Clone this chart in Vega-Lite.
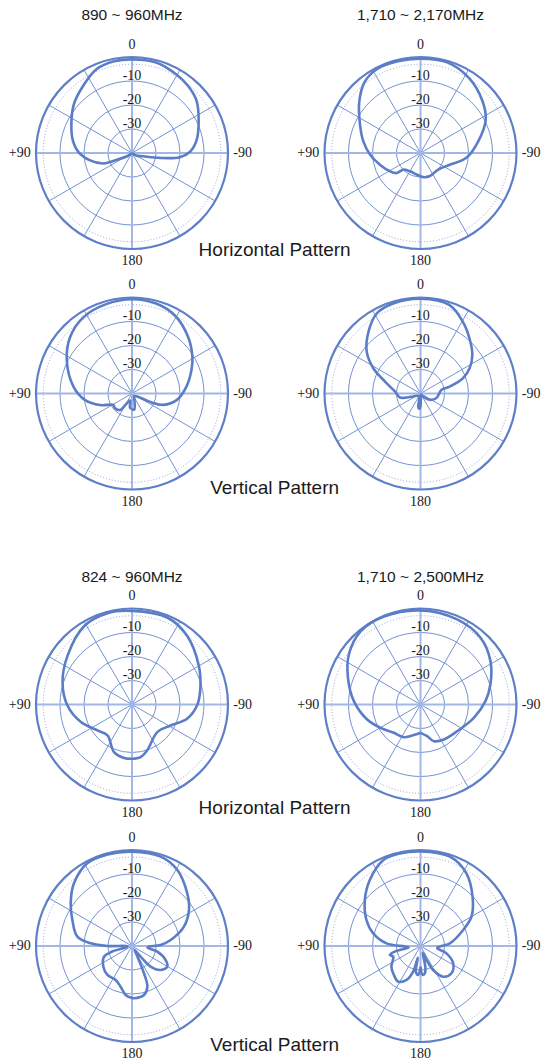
{
"$schema": "https://vega.github.io/schema/vega-lite/v6.json",
"background": "white",
"padding": {"left": 8, "top": 8, "right": 0, "bottom": 0},
"config": {"view": {"stroke": null}, "title": {"font": "Liberation Sans", "fontWeight": "normal", "color": "#1a1a1a"}},
"datasets": {
"rings": [{"level": -10}, {"level": -20}, {"level": -30}],
"dotted": [{"level": -3}],
"outer": [{"level": 0}],
"spokes": [{"angle": 30}, {"angle": 60}, {"angle": 120}, {"angle": 150}],
"axes": [{"angle": 0}, {"angle": 90}],
"dbl": [{"level": -10, "label": "-10"}, {"level": -20, "label": "-20"}, {"level": -30, "label": "-30"}],
"angl": [{"angle": 0, "label": "0"}, {"angle": 90, "label": "+90"}, {"angle": -90, "label": "-90"}, {"angle": 180, "label": "180"}],
"p1": [{"a":-180,"l":-40},{"a":-120,"l":-38},{"a":-106,"l":-35},{"a":-100,"l":-28.2},{"a":-95,"l":-20},{"a":-89,"l":-15.9},{"a":-79,"l":-12.6},{"a":-64,"l":-9.1},{"a":-51,"l":-5.4},{"a":-40,"l":-3.6},{"a":-30,"l":-2.5},{"a":-15,"l":-1},{"a":0,"l":-1},{"a":11,"l":-1.1},{"a":23,"l":-2.1},{"a":36,"l":-5.4},{"a":50,"l":-8.4},{"a":64,"l":-11.9},{"a":78,"l":-14.8},{"a":89,"l":-17.7},{"a":100,"l":-22.3},{"a":110,"l":-27.3},{"a":114,"l":-33},{"a":125,"l":-38},{"a":180,"l":-40}],
"p2": [{"a":-180,"l":-30.3},{"a":-172,"l":-29.8},{"a":-158,"l":-29.6},{"a":-133,"l":-29.9},{"a":-112,"l":-26.9},{"a":-96,"l":-20.8},{"a":-79,"l":-15.6},{"a":-63,"l":-9.5},{"a":-50,"l":-6.3},{"a":-33,"l":-2.8},{"a":-16,"l":-0.6},{"a":0,"l":-0.7},{"a":14,"l":-0.6},{"a":27,"l":-0.6},{"a":38,"l":-2.3},{"a":50,"l":-6.7},{"a":65,"l":-12.2},{"a":78.5,"l":-15.7},{"a":92,"l":-19},{"a":106,"l":-22.4},{"a":121,"l":-25.2},{"a":130,"l":-27},{"a":134,"l":-30},{"a":150,"l":-31.2},{"a":169.5,"l":-30.9},{"a":180,"l":-30.3}],
"p3": [{"a":-180,"l":-33.5},{"a":-172,"l":-33.2},{"a":-160,"l":-37},{"a":-140,"l":-38.5},{"a":-120,"l":-37.5},{"a":-115,"l":-32},{"a":-110,"l":-26.2},{"a":-98.5,"l":-21.2},{"a":-83,"l":-17.2},{"a":-68.6,"l":-13.4},{"a":-58.9,"l":-10.6},{"a":-44.8,"l":-6.8},{"a":-28.8,"l":-2.9},{"a":-15,"l":-1.2},{"a":0,"l":-0.7},{"a":15.7,"l":-1.2},{"a":32.4,"l":-2.3},{"a":47.6,"l":-5.1},{"a":63,"l":-9.5},{"a":83.5,"l":-15.5},{"a":98,"l":-20.3},{"a":110,"l":-25.9},{"a":122,"l":-30.9},{"a":131,"l":-30.6},{"a":144,"l":-31.5},{"a":152,"l":-35.3},{"a":165,"l":-37},{"a":172,"l":-34},{"a":180,"l":-33.5}],
"p4": [{"a":-180,"l":-34.2},{"a":-176,"l":-38},{"a":-165,"l":-39.5},{"a":-150,"l":-39},{"a":-138,"l":-38.3},{"a":-124,"l":-35.3},{"a":-106,"l":-33.1},{"a":-80,"l":-31.1},{"a":-76.6,"l":-27.5},{"a":-70.2,"l":-21.2},{"a":-62.8,"l":-17},{"a":-53.4,"l":-13.1},{"a":-41.7,"l":-9.3},{"a":-30.6,"l":-5.3},{"a":-18,"l":-1.2},{"a":0,"l":-0.5},{"a":16.5,"l":-0.8},{"a":28.7,"l":-2},{"a":40.2,"l":-6.4},{"a":52.1,"l":-11.6},{"a":61.8,"l":-17.7},{"a":71.4,"l":-24.4},{"a":85.5,"l":-29.3},{"a":101,"l":-31.3},{"a":106,"l":-34},{"a":112,"l":-36.7},{"a":130,"l":-38.5},{"a":165,"l":-38},{"a":170,"l":-34.5},{"a":175,"l":-33.6},{"a":180,"l":-34.2}],
"p5": [{"a":-180,"l":-17.4},{"a":-178,"l":-17.4},{"a":-170.7,"l":-17.8},{"a":-161.6,"l":-19.9},{"a":-137.5,"l":-24.4},{"a":-118.5,"l":-21.7},{"a":-104.5,"l":-16.3},{"a":-90.9,"l":-12.9},{"a":-77.1,"l":-10.8},{"a":-59.8,"l":-7.8},{"a":-38.7,"l":-3.3},{"a":-22,"l":-0.9},{"a":0,"l":-1},{"a":15,"l":-0.6},{"a":31.3,"l":-1.7},{"a":52.8,"l":-6.3},{"a":72.2,"l":-9.6},{"a":90.9,"l":-13.1},{"a":109,"l":-17.5},{"a":126.9,"l":-22},{"a":141.5,"l":-23.6},{"a":159.3,"l":-18.8},{"a":171.5,"l":-17.5},{"a":180,"l":-17.4}],
"p6": [{"a":-180,"l":-28.2},{"a":-168,"l":-26.5},{"a":-160,"l":-23.75},{"a":-146.3,"l":-22.5},{"a":-126,"l":-21.1},{"a":-104,"l":-17.1},{"a":-87,"l":-12.9},{"a":-74,"l":-9.7},{"a":-58.2,"l":-5.7},{"a":-42,"l":-2.6},{"a":-23.3,"l":-1.4},{"a":0,"l":-0.8},{"a":22.5,"l":-0.3},{"a":39.3,"l":-0.6},{"a":55.1,"l":-3.6},{"a":69.8,"l":-7.8},{"a":87.1,"l":-12.2},{"a":105.7,"l":-16.9},{"a":120.3,"l":-20.7},{"a":136.7,"l":-23.8},{"a":153,"l":-24.7},{"a":162.5,"l":-26.2},{"a":180,"l":-28.2}],
"p7": [{"a":-180,"l":-18.3},{"a":-177.8,"l":-18.2},{"a":-166.2,"l":-19},{"a":-159.3,"l":-21.9},{"a":-156.3,"l":-27.6},{"a":-152,"l":-36},{"a":-147,"l":-38},{"a":-141,"l":-34.3},{"a":-137.9,"l":-28.4},{"a":-129.9,"l":-24.4},{"a":-120.3,"l":-23},{"a":-112.6,"l":-24.8},{"a":-102.6,"l":-29.2},{"a":-96,"l":-33.5},{"a":-92,"l":-33},{"a":-88,"l":-28.1},{"a":-81.2,"l":-23.7},{"a":-69.6,"l":-16.9},{"a":-57.7,"l":-11.9},{"a":-46.4,"l":-8.2},{"a":-30.8,"l":-3.1},{"a":-17.8,"l":-0.9},{"a":0,"l":-0.7},{"a":14.9,"l":-0.5},{"a":28.4,"l":-0.8},{"a":42.8,"l":-4.4},{"a":55.2,"l":-8.9},{"a":66.5,"l":-12.9},{"a":80.3,"l":-16.9},{"a":86.3,"l":-22.8},{"a":90,"l":-29.7},{"a":93,"l":-38},{"a":100,"l":-38},{"a":106,"l":-31},{"a":111,"l":-27.5},{"a":125.8,"l":-25.3},{"a":139.6,"l":-24.2},{"a":154.3,"l":-24.3},{"a":164.4,"l":-22.4},{"a":172.6,"l":-19.4},{"a":180,"l":-18.3}],
"p8": [{"a":-180,"l":-31.4},{"a":-176,"l":-28},{"a":-171,"l":-28.5},{"a":-167,"l":-31},{"a":-162,"l":-37},{"a":-156.8,"l":-33.7},{"a":-152.2,"l":-28.7},{"a":-143.5,"l":-24.1},{"a":-131.4,"l":-22.8},{"a":-117.9,"l":-24.6},{"a":-105.8,"l":-28.75},{"a":-97,"l":-33},{"a":-90,"l":-31.25},{"a":-84.8,"l":-27.7},{"a":-69.4,"l":-21},{"a":-60.1,"l":-15.5},{"a":-46.5,"l":-10.1},{"a":-32.3,"l":-4.2},{"a":-18.2,"l":-0.8},{"a":0,"l":-0.6},{"a":12.5,"l":-0.5},{"a":23.5,"l":-1},{"a":37.5,"l":-5.3},{"a":50.4,"l":-9.9},{"a":64.3,"l":-15},{"a":75,"l":-19.6},{"a":85.5,"l":-25.8},{"a":92,"l":-33.5},{"a":97,"l":-35},{"a":102.4,"l":-29},{"a":106.4,"l":-26.7},{"a":111.3,"l":-27.8},{"a":125.5,"l":-25.1},{"a":137.4,"l":-23.6},{"a":148,"l":-22.5},{"a":157.6,"l":-24.7},{"a":164,"l":-28.9},{"a":167,"l":-35},{"a":170,"l":-29},{"a":175.4,"l":-27.9},{"a":180,"l":-31.4}]
},
"spacing": 60.5,
"vconcat": [
{"spacing": 8.5, "vconcat": [
{"bounds": "flush", "spacing": 88.5, "title": {"text": "Horizontal Pattern", "orient": "bottom", "anchor": "middle", "frame": "bounds", "fontSize": 19, "offset": -27.5}, "hconcat": [
{"width": 200, "height": 200, "title": {"text": "890 ~ 960MHz", "fontSize": 15.5, "offset": 13.8}, "layer": [
{"data": {"name": "rings"}, "mark": {"type": "arc", "filled": false, "stroke": "#7492d4", "strokeWidth": 1}, "encoding": {"radius": {"field": "level", "type": "quantitative", "scale": {"type": "linear", "domain": [-40, 0], "range": [0, 96], "zero": false}}, "radius2": {"datum": -40}}},
{"data": {"name": "dotted"}, "mark": {"type": "arc", "filled": false, "stroke": "#8aa4dc", "strokeWidth": 1, "strokeDash": [1, 2]}, "encoding": {"radius": {"field": "level", "type": "quantitative", "scale": {"type": "linear", "domain": [-40, 0], "range": [0, 96], "zero": false}}, "radius2": {"datum": -40}}},
{"data": {"name": "spokes"}, "transform": [{"calculate": "-40*sin(datum.angle*PI/180)", "as": "x"}, {"calculate": "40*cos(datum.angle*PI/180)", "as": "y"}, {"calculate": "-datum.x", "as": "x2"}, {"calculate": "-datum.y", "as": "y2"}], "mark": {"type": "rule", "color": "#7492d4", "strokeWidth": 1}, "encoding": {"x": {"field": "x", "type": "quantitative", "scale": {"domain": [-41.6667, 41.6667], "nice": false, "zero": false}, "axis": null}, "y": {"field": "y", "type": "quantitative", "scale": {"domain": [-41.6667, 41.6667], "nice": false, "zero": false}, "axis": null}, "x2": {"field": "x2"}, "y2": {"field": "y2"}}},
{"data": {"name": "axes"}, "transform": [{"calculate": "-40*sin(datum.angle*PI/180)", "as": "x"}, {"calculate": "40*cos(datum.angle*PI/180)", "as": "y"}, {"calculate": "-datum.x", "as": "x2"}, {"calculate": "-datum.y", "as": "y2"}], "mark": {"type": "rule", "color": "#a2b7e5", "strokeWidth": 2}, "encoding": {"x": {"field": "x", "type": "quantitative", "scale": {"domain": [-41.6667, 41.6667], "nice": false, "zero": false}, "axis": null}, "y": {"field": "y", "type": "quantitative", "scale": {"domain": [-41.6667, 41.6667], "nice": false, "zero": false}, "axis": null}, "x2": {"field": "x2"}, "y2": {"field": "y2"}}},
{"data": {"name": "outer"}, "mark": {"type": "arc", "filled": false, "stroke": "#5f80c8", "strokeWidth": 2.2}, "encoding": {"radius": {"field": "level", "type": "quantitative", "scale": {"type": "linear", "domain": [-40, 0], "range": [0, 96], "zero": false}}, "radius2": {"datum": -40}}},
{"data": {"name": "p1"}, "transform": [{"calculate": "max(0, datum.l + 40)", "as": "r"}, {"calculate": "-datum.r*sin(datum.a*PI/180)", "as": "x"}, {"calculate": "datum.r*cos(datum.a*PI/180)", "as": "y"}], "mark": {"type": "line", "color": "#5b7dc6", "strokeWidth": 2.6, "interpolate": "catmull-rom"}, "encoding": {"x": {"field": "x", "type": "quantitative", "scale": {"domain": [-41.6667, 41.6667], "nice": false, "zero": false}, "axis": null}, "y": {"field": "y", "type": "quantitative", "scale": {"domain": [-41.6667, 41.6667], "nice": false, "zero": false}, "axis": null}, "order": {"field": "a", "type": "quantitative"}}},
{"data": {"name": "dbl"}, "transform": [{"calculate": "datum.level + 40", "as": "y"}], "mark": {"type": "text", "font": "Liberation Serif", "fontSize": 14, "color": "#1a1a1a", "baseline": "alphabetic", "dy": -1.5}, "encoding": {"x": {"datum": 0, "type": "quantitative", "scale": {"domain": [-41.6667, 41.6667], "nice": false, "zero": false}, "axis": null}, "y": {"field": "y", "type": "quantitative", "scale": {"domain": [-41.6667, 41.6667], "nice": false, "zero": false}, "axis": null}, "text": {"field": "label"}}},
{"data": {"name": "angl"}, "transform": [{"calculate": "-42.2*sin(datum.angle*PI/180)", "as": "x"}, {"calculate": "42.2*cos(datum.angle*PI/180)", "as": "y"}], "mark": {"type": "text", "font": "Liberation Serif", "fontSize": 14, "color": "#1a1a1a", "align": {"expr": "datum.angle == 90 ? 'right' : datum.angle == -90 ? 'left' : 'center'"}, "baseline": {"expr": "datum.angle == 0 ? 'bottom' : datum.angle == 180 ? 'top' : 'middle'"}}, "encoding": {"x": {"field": "x", "type": "quantitative", "scale": {"domain": [-41.6667, 41.6667], "nice": false, "zero": false}, "axis": null}, "y": {"field": "y", "type": "quantitative", "scale": {"domain": [-41.6667, 41.6667], "nice": false, "zero": false}, "axis": null}, "text": {"field": "label"}}}
]},
{"width": 200, "height": 200, "title": {"text": "1,710 ~ 2,170MHz", "fontSize": 15.5, "offset": 13.8}, "layer": [
{"data": {"name": "rings"}, "mark": {"type": "arc", "filled": false, "stroke": "#7492d4", "strokeWidth": 1}, "encoding": {"radius": {"field": "level", "type": "quantitative", "scale": {"type": "linear", "domain": [-40, 0], "range": [0, 96], "zero": false}}, "radius2": {"datum": -40}}},
{"data": {"name": "dotted"}, "mark": {"type": "arc", "filled": false, "stroke": "#8aa4dc", "strokeWidth": 1, "strokeDash": [1, 2]}, "encoding": {"radius": {"field": "level", "type": "quantitative", "scale": {"type": "linear", "domain": [-40, 0], "range": [0, 96], "zero": false}}, "radius2": {"datum": -40}}},
{"data": {"name": "spokes"}, "transform": [{"calculate": "-40*sin(datum.angle*PI/180)", "as": "x"}, {"calculate": "40*cos(datum.angle*PI/180)", "as": "y"}, {"calculate": "-datum.x", "as": "x2"}, {"calculate": "-datum.y", "as": "y2"}], "mark": {"type": "rule", "color": "#7492d4", "strokeWidth": 1}, "encoding": {"x": {"field": "x", "type": "quantitative", "scale": {"domain": [-41.6667, 41.6667], "nice": false, "zero": false}, "axis": null}, "y": {"field": "y", "type": "quantitative", "scale": {"domain": [-41.6667, 41.6667], "nice": false, "zero": false}, "axis": null}, "x2": {"field": "x2"}, "y2": {"field": "y2"}}},
{"data": {"name": "axes"}, "transform": [{"calculate": "-40*sin(datum.angle*PI/180)", "as": "x"}, {"calculate": "40*cos(datum.angle*PI/180)", "as": "y"}, {"calculate": "-datum.x", "as": "x2"}, {"calculate": "-datum.y", "as": "y2"}], "mark": {"type": "rule", "color": "#a2b7e5", "strokeWidth": 2}, "encoding": {"x": {"field": "x", "type": "quantitative", "scale": {"domain": [-41.6667, 41.6667], "nice": false, "zero": false}, "axis": null}, "y": {"field": "y", "type": "quantitative", "scale": {"domain": [-41.6667, 41.6667], "nice": false, "zero": false}, "axis": null}, "x2": {"field": "x2"}, "y2": {"field": "y2"}}},
{"data": {"name": "outer"}, "mark": {"type": "arc", "filled": false, "stroke": "#5f80c8", "strokeWidth": 2.2}, "encoding": {"radius": {"field": "level", "type": "quantitative", "scale": {"type": "linear", "domain": [-40, 0], "range": [0, 96], "zero": false}}, "radius2": {"datum": -40}}},
{"data": {"name": "p2"}, "transform": [{"calculate": "max(0, datum.l + 40)", "as": "r"}, {"calculate": "-datum.r*sin(datum.a*PI/180)", "as": "x"}, {"calculate": "datum.r*cos(datum.a*PI/180)", "as": "y"}], "mark": {"type": "line", "color": "#5b7dc6", "strokeWidth": 2.6, "interpolate": "catmull-rom"}, "encoding": {"x": {"field": "x", "type": "quantitative", "scale": {"domain": [-41.6667, 41.6667], "nice": false, "zero": false}, "axis": null}, "y": {"field": "y", "type": "quantitative", "scale": {"domain": [-41.6667, 41.6667], "nice": false, "zero": false}, "axis": null}, "order": {"field": "a", "type": "quantitative"}}},
{"data": {"name": "dbl"}, "transform": [{"calculate": "datum.level + 40", "as": "y"}], "mark": {"type": "text", "font": "Liberation Serif", "fontSize": 14, "color": "#1a1a1a", "baseline": "alphabetic", "dy": -1.5}, "encoding": {"x": {"datum": 0, "type": "quantitative", "scale": {"domain": [-41.6667, 41.6667], "nice": false, "zero": false}, "axis": null}, "y": {"field": "y", "type": "quantitative", "scale": {"domain": [-41.6667, 41.6667], "nice": false, "zero": false}, "axis": null}, "text": {"field": "label"}}},
{"data": {"name": "angl"}, "transform": [{"calculate": "-42.2*sin(datum.angle*PI/180)", "as": "x"}, {"calculate": "42.2*cos(datum.angle*PI/180)", "as": "y"}], "mark": {"type": "text", "font": "Liberation Serif", "fontSize": 14, "color": "#1a1a1a", "align": {"expr": "datum.angle == 90 ? 'right' : datum.angle == -90 ? 'left' : 'center'"}, "baseline": {"expr": "datum.angle == 0 ? 'bottom' : datum.angle == 180 ? 'top' : 'middle'"}}, "encoding": {"x": {"field": "x", "type": "quantitative", "scale": {"domain": [-41.6667, 41.6667], "nice": false, "zero": false}, "axis": null}, "y": {"field": "y", "type": "quantitative", "scale": {"domain": [-41.6667, 41.6667], "nice": false, "zero": false}, "axis": null}, "text": {"field": "label"}}}
]}
]},
{"bounds": "flush", "spacing": 88.5, "title": {"text": "Vertical Pattern", "orient": "bottom", "anchor": "middle", "frame": "bounds", "fontSize": 19, "offset": -29.5}, "hconcat": [
{"width": 200, "height": 200, "layer": [
{"data": {"name": "rings"}, "mark": {"type": "arc", "filled": false, "stroke": "#7492d4", "strokeWidth": 1}, "encoding": {"radius": {"field": "level", "type": "quantitative", "scale": {"type": "linear", "domain": [-40, 0], "range": [0, 96], "zero": false}}, "radius2": {"datum": -40}}},
{"data": {"name": "dotted"}, "mark": {"type": "arc", "filled": false, "stroke": "#8aa4dc", "strokeWidth": 1, "strokeDash": [1, 2]}, "encoding": {"radius": {"field": "level", "type": "quantitative", "scale": {"type": "linear", "domain": [-40, 0], "range": [0, 96], "zero": false}}, "radius2": {"datum": -40}}},
{"data": {"name": "spokes"}, "transform": [{"calculate": "-40*sin(datum.angle*PI/180)", "as": "x"}, {"calculate": "40*cos(datum.angle*PI/180)", "as": "y"}, {"calculate": "-datum.x", "as": "x2"}, {"calculate": "-datum.y", "as": "y2"}], "mark": {"type": "rule", "color": "#7492d4", "strokeWidth": 1}, "encoding": {"x": {"field": "x", "type": "quantitative", "scale": {"domain": [-41.6667, 41.6667], "nice": false, "zero": false}, "axis": null}, "y": {"field": "y", "type": "quantitative", "scale": {"domain": [-41.6667, 41.6667], "nice": false, "zero": false}, "axis": null}, "x2": {"field": "x2"}, "y2": {"field": "y2"}}},
{"data": {"name": "axes"}, "transform": [{"calculate": "-40*sin(datum.angle*PI/180)", "as": "x"}, {"calculate": "40*cos(datum.angle*PI/180)", "as": "y"}, {"calculate": "-datum.x", "as": "x2"}, {"calculate": "-datum.y", "as": "y2"}], "mark": {"type": "rule", "color": "#a2b7e5", "strokeWidth": 2}, "encoding": {"x": {"field": "x", "type": "quantitative", "scale": {"domain": [-41.6667, 41.6667], "nice": false, "zero": false}, "axis": null}, "y": {"field": "y", "type": "quantitative", "scale": {"domain": [-41.6667, 41.6667], "nice": false, "zero": false}, "axis": null}, "x2": {"field": "x2"}, "y2": {"field": "y2"}}},
{"data": {"name": "outer"}, "mark": {"type": "arc", "filled": false, "stroke": "#5f80c8", "strokeWidth": 2.2}, "encoding": {"radius": {"field": "level", "type": "quantitative", "scale": {"type": "linear", "domain": [-40, 0], "range": [0, 96], "zero": false}}, "radius2": {"datum": -40}}},
{"data": {"name": "p3"}, "transform": [{"calculate": "max(0, datum.l + 40)", "as": "r"}, {"calculate": "-datum.r*sin(datum.a*PI/180)", "as": "x"}, {"calculate": "datum.r*cos(datum.a*PI/180)", "as": "y"}], "mark": {"type": "line", "color": "#5b7dc6", "strokeWidth": 2.6, "interpolate": "catmull-rom"}, "encoding": {"x": {"field": "x", "type": "quantitative", "scale": {"domain": [-41.6667, 41.6667], "nice": false, "zero": false}, "axis": null}, "y": {"field": "y", "type": "quantitative", "scale": {"domain": [-41.6667, 41.6667], "nice": false, "zero": false}, "axis": null}, "order": {"field": "a", "type": "quantitative"}}},
{"data": {"name": "dbl"}, "transform": [{"calculate": "datum.level + 40", "as": "y"}], "mark": {"type": "text", "font": "Liberation Serif", "fontSize": 14, "color": "#1a1a1a", "baseline": "alphabetic", "dy": -1.5}, "encoding": {"x": {"datum": 0, "type": "quantitative", "scale": {"domain": [-41.6667, 41.6667], "nice": false, "zero": false}, "axis": null}, "y": {"field": "y", "type": "quantitative", "scale": {"domain": [-41.6667, 41.6667], "nice": false, "zero": false}, "axis": null}, "text": {"field": "label"}}},
{"data": {"name": "angl"}, "transform": [{"calculate": "-42.2*sin(datum.angle*PI/180)", "as": "x"}, {"calculate": "42.2*cos(datum.angle*PI/180)", "as": "y"}], "mark": {"type": "text", "font": "Liberation Serif", "fontSize": 14, "color": "#1a1a1a", "align": {"expr": "datum.angle == 90 ? 'right' : datum.angle == -90 ? 'left' : 'center'"}, "baseline": {"expr": "datum.angle == 0 ? 'bottom' : datum.angle == 180 ? 'top' : 'middle'"}}, "encoding": {"x": {"field": "x", "type": "quantitative", "scale": {"domain": [-41.6667, 41.6667], "nice": false, "zero": false}, "axis": null}, "y": {"field": "y", "type": "quantitative", "scale": {"domain": [-41.6667, 41.6667], "nice": false, "zero": false}, "axis": null}, "text": {"field": "label"}}}
]},
{"width": 200, "height": 200, "layer": [
{"data": {"name": "rings"}, "mark": {"type": "arc", "filled": false, "stroke": "#7492d4", "strokeWidth": 1}, "encoding": {"radius": {"field": "level", "type": "quantitative", "scale": {"type": "linear", "domain": [-40, 0], "range": [0, 96], "zero": false}}, "radius2": {"datum": -40}}},
{"data": {"name": "dotted"}, "mark": {"type": "arc", "filled": false, "stroke": "#8aa4dc", "strokeWidth": 1, "strokeDash": [1, 2]}, "encoding": {"radius": {"field": "level", "type": "quantitative", "scale": {"type": "linear", "domain": [-40, 0], "range": [0, 96], "zero": false}}, "radius2": {"datum": -40}}},
{"data": {"name": "spokes"}, "transform": [{"calculate": "-40*sin(datum.angle*PI/180)", "as": "x"}, {"calculate": "40*cos(datum.angle*PI/180)", "as": "y"}, {"calculate": "-datum.x", "as": "x2"}, {"calculate": "-datum.y", "as": "y2"}], "mark": {"type": "rule", "color": "#7492d4", "strokeWidth": 1}, "encoding": {"x": {"field": "x", "type": "quantitative", "scale": {"domain": [-41.6667, 41.6667], "nice": false, "zero": false}, "axis": null}, "y": {"field": "y", "type": "quantitative", "scale": {"domain": [-41.6667, 41.6667], "nice": false, "zero": false}, "axis": null}, "x2": {"field": "x2"}, "y2": {"field": "y2"}}},
{"data": {"name": "axes"}, "transform": [{"calculate": "-40*sin(datum.angle*PI/180)", "as": "x"}, {"calculate": "40*cos(datum.angle*PI/180)", "as": "y"}, {"calculate": "-datum.x", "as": "x2"}, {"calculate": "-datum.y", "as": "y2"}], "mark": {"type": "rule", "color": "#a2b7e5", "strokeWidth": 2}, "encoding": {"x": {"field": "x", "type": "quantitative", "scale": {"domain": [-41.6667, 41.6667], "nice": false, "zero": false}, "axis": null}, "y": {"field": "y", "type": "quantitative", "scale": {"domain": [-41.6667, 41.6667], "nice": false, "zero": false}, "axis": null}, "x2": {"field": "x2"}, "y2": {"field": "y2"}}},
{"data": {"name": "outer"}, "mark": {"type": "arc", "filled": false, "stroke": "#5f80c8", "strokeWidth": 2.2}, "encoding": {"radius": {"field": "level", "type": "quantitative", "scale": {"type": "linear", "domain": [-40, 0], "range": [0, 96], "zero": false}}, "radius2": {"datum": -40}}},
{"data": {"name": "p4"}, "transform": [{"calculate": "max(0, datum.l + 40)", "as": "r"}, {"calculate": "-datum.r*sin(datum.a*PI/180)", "as": "x"}, {"calculate": "datum.r*cos(datum.a*PI/180)", "as": "y"}], "mark": {"type": "line", "color": "#5b7dc6", "strokeWidth": 2.6, "interpolate": "catmull-rom"}, "encoding": {"x": {"field": "x", "type": "quantitative", "scale": {"domain": [-41.6667, 41.6667], "nice": false, "zero": false}, "axis": null}, "y": {"field": "y", "type": "quantitative", "scale": {"domain": [-41.6667, 41.6667], "nice": false, "zero": false}, "axis": null}, "order": {"field": "a", "type": "quantitative"}}},
{"data": {"name": "dbl"}, "transform": [{"calculate": "datum.level + 40", "as": "y"}], "mark": {"type": "text", "font": "Liberation Serif", "fontSize": 14, "color": "#1a1a1a", "baseline": "alphabetic", "dy": -1.5}, "encoding": {"x": {"datum": 0, "type": "quantitative", "scale": {"domain": [-41.6667, 41.6667], "nice": false, "zero": false}, "axis": null}, "y": {"field": "y", "type": "quantitative", "scale": {"domain": [-41.6667, 41.6667], "nice": false, "zero": false}, "axis": null}, "text": {"field": "label"}}},
{"data": {"name": "angl"}, "transform": [{"calculate": "-42.2*sin(datum.angle*PI/180)", "as": "x"}, {"calculate": "42.2*cos(datum.angle*PI/180)", "as": "y"}], "mark": {"type": "text", "font": "Liberation Serif", "fontSize": 14, "color": "#1a1a1a", "align": {"expr": "datum.angle == 90 ? 'right' : datum.angle == -90 ? 'left' : 'center'"}, "baseline": {"expr": "datum.angle == 0 ? 'bottom' : datum.angle == 180 ? 'top' : 'middle'"}}, "encoding": {"x": {"field": "x", "type": "quantitative", "scale": {"domain": [-41.6667, 41.6667], "nice": false, "zero": false}, "axis": null}, "y": {"field": "y", "type": "quantitative", "scale": {"domain": [-41.6667, 41.6667], "nice": false, "zero": false}, "axis": null}, "text": {"field": "label"}}}
]}
]}
]},
{"spacing": 9.5, "vconcat": [
{"bounds": "flush", "spacing": 88.5, "title": {"text": "Horizontal Pattern", "orient": "bottom", "anchor": "middle", "frame": "bounds", "fontSize": 19, "offset": -21}, "hconcat": [
{"width": 200, "height": 200, "title": {"text": "824 ~ 960MHz", "fontSize": 15.5, "offset": 3.8}, "layer": [
{"data": {"name": "rings"}, "mark": {"type": "arc", "filled": false, "stroke": "#7492d4", "strokeWidth": 1}, "encoding": {"radius": {"field": "level", "type": "quantitative", "scale": {"type": "linear", "domain": [-40, 0], "range": [0, 96], "zero": false}}, "radius2": {"datum": -40}}},
{"data": {"name": "dotted"}, "mark": {"type": "arc", "filled": false, "stroke": "#8aa4dc", "strokeWidth": 1, "strokeDash": [1, 2]}, "encoding": {"radius": {"field": "level", "type": "quantitative", "scale": {"type": "linear", "domain": [-40, 0], "range": [0, 96], "zero": false}}, "radius2": {"datum": -40}}},
{"data": {"name": "spokes"}, "transform": [{"calculate": "-40*sin(datum.angle*PI/180)", "as": "x"}, {"calculate": "40*cos(datum.angle*PI/180)", "as": "y"}, {"calculate": "-datum.x", "as": "x2"}, {"calculate": "-datum.y", "as": "y2"}], "mark": {"type": "rule", "color": "#7492d4", "strokeWidth": 1}, "encoding": {"x": {"field": "x", "type": "quantitative", "scale": {"domain": [-41.6667, 41.6667], "nice": false, "zero": false}, "axis": null}, "y": {"field": "y", "type": "quantitative", "scale": {"domain": [-41.6667, 41.6667], "nice": false, "zero": false}, "axis": null}, "x2": {"field": "x2"}, "y2": {"field": "y2"}}},
{"data": {"name": "axes"}, "transform": [{"calculate": "-40*sin(datum.angle*PI/180)", "as": "x"}, {"calculate": "40*cos(datum.angle*PI/180)", "as": "y"}, {"calculate": "-datum.x", "as": "x2"}, {"calculate": "-datum.y", "as": "y2"}], "mark": {"type": "rule", "color": "#a2b7e5", "strokeWidth": 2}, "encoding": {"x": {"field": "x", "type": "quantitative", "scale": {"domain": [-41.6667, 41.6667], "nice": false, "zero": false}, "axis": null}, "y": {"field": "y", "type": "quantitative", "scale": {"domain": [-41.6667, 41.6667], "nice": false, "zero": false}, "axis": null}, "x2": {"field": "x2"}, "y2": {"field": "y2"}}},
{"data": {"name": "outer"}, "mark": {"type": "arc", "filled": false, "stroke": "#5f80c8", "strokeWidth": 2.2}, "encoding": {"radius": {"field": "level", "type": "quantitative", "scale": {"type": "linear", "domain": [-40, 0], "range": [0, 96], "zero": false}}, "radius2": {"datum": -40}}},
{"data": {"name": "p5"}, "transform": [{"calculate": "max(0, datum.l + 40)", "as": "r"}, {"calculate": "-datum.r*sin(datum.a*PI/180)", "as": "x"}, {"calculate": "datum.r*cos(datum.a*PI/180)", "as": "y"}], "mark": {"type": "line", "color": "#5b7dc6", "strokeWidth": 2.6, "interpolate": "catmull-rom"}, "encoding": {"x": {"field": "x", "type": "quantitative", "scale": {"domain": [-41.6667, 41.6667], "nice": false, "zero": false}, "axis": null}, "y": {"field": "y", "type": "quantitative", "scale": {"domain": [-41.6667, 41.6667], "nice": false, "zero": false}, "axis": null}, "order": {"field": "a", "type": "quantitative"}}},
{"data": {"name": "dbl"}, "transform": [{"calculate": "datum.level + 40", "as": "y"}], "mark": {"type": "text", "font": "Liberation Serif", "fontSize": 14, "color": "#1a1a1a", "baseline": "alphabetic", "dy": -1.5}, "encoding": {"x": {"datum": 0, "type": "quantitative", "scale": {"domain": [-41.6667, 41.6667], "nice": false, "zero": false}, "axis": null}, "y": {"field": "y", "type": "quantitative", "scale": {"domain": [-41.6667, 41.6667], "nice": false, "zero": false}, "axis": null}, "text": {"field": "label"}}},
{"data": {"name": "angl"}, "transform": [{"calculate": "-42.2*sin(datum.angle*PI/180)", "as": "x"}, {"calculate": "42.2*cos(datum.angle*PI/180)", "as": "y"}], "mark": {"type": "text", "font": "Liberation Serif", "fontSize": 14, "color": "#1a1a1a", "align": {"expr": "datum.angle == 90 ? 'right' : datum.angle == -90 ? 'left' : 'center'"}, "baseline": {"expr": "datum.angle == 0 ? 'bottom' : datum.angle == 180 ? 'top' : 'middle'"}}, "encoding": {"x": {"field": "x", "type": "quantitative", "scale": {"domain": [-41.6667, 41.6667], "nice": false, "zero": false}, "axis": null}, "y": {"field": "y", "type": "quantitative", "scale": {"domain": [-41.6667, 41.6667], "nice": false, "zero": false}, "axis": null}, "text": {"field": "label"}}}
]},
{"width": 200, "height": 200, "title": {"text": "1,710 ~ 2,500MHz", "fontSize": 15.5, "offset": 3.8}, "layer": [
{"data": {"name": "rings"}, "mark": {"type": "arc", "filled": false, "stroke": "#7492d4", "strokeWidth": 1}, "encoding": {"radius": {"field": "level", "type": "quantitative", "scale": {"type": "linear", "domain": [-40, 0], "range": [0, 96], "zero": false}}, "radius2": {"datum": -40}}},
{"data": {"name": "dotted"}, "mark": {"type": "arc", "filled": false, "stroke": "#8aa4dc", "strokeWidth": 1, "strokeDash": [1, 2]}, "encoding": {"radius": {"field": "level", "type": "quantitative", "scale": {"type": "linear", "domain": [-40, 0], "range": [0, 96], "zero": false}}, "radius2": {"datum": -40}}},
{"data": {"name": "spokes"}, "transform": [{"calculate": "-40*sin(datum.angle*PI/180)", "as": "x"}, {"calculate": "40*cos(datum.angle*PI/180)", "as": "y"}, {"calculate": "-datum.x", "as": "x2"}, {"calculate": "-datum.y", "as": "y2"}], "mark": {"type": "rule", "color": "#7492d4", "strokeWidth": 1}, "encoding": {"x": {"field": "x", "type": "quantitative", "scale": {"domain": [-41.6667, 41.6667], "nice": false, "zero": false}, "axis": null}, "y": {"field": "y", "type": "quantitative", "scale": {"domain": [-41.6667, 41.6667], "nice": false, "zero": false}, "axis": null}, "x2": {"field": "x2"}, "y2": {"field": "y2"}}},
{"data": {"name": "axes"}, "transform": [{"calculate": "-40*sin(datum.angle*PI/180)", "as": "x"}, {"calculate": "40*cos(datum.angle*PI/180)", "as": "y"}, {"calculate": "-datum.x", "as": "x2"}, {"calculate": "-datum.y", "as": "y2"}], "mark": {"type": "rule", "color": "#a2b7e5", "strokeWidth": 2}, "encoding": {"x": {"field": "x", "type": "quantitative", "scale": {"domain": [-41.6667, 41.6667], "nice": false, "zero": false}, "axis": null}, "y": {"field": "y", "type": "quantitative", "scale": {"domain": [-41.6667, 41.6667], "nice": false, "zero": false}, "axis": null}, "x2": {"field": "x2"}, "y2": {"field": "y2"}}},
{"data": {"name": "outer"}, "mark": {"type": "arc", "filled": false, "stroke": "#5f80c8", "strokeWidth": 2.2}, "encoding": {"radius": {"field": "level", "type": "quantitative", "scale": {"type": "linear", "domain": [-40, 0], "range": [0, 96], "zero": false}}, "radius2": {"datum": -40}}},
{"data": {"name": "p6"}, "transform": [{"calculate": "max(0, datum.l + 40)", "as": "r"}, {"calculate": "-datum.r*sin(datum.a*PI/180)", "as": "x"}, {"calculate": "datum.r*cos(datum.a*PI/180)", "as": "y"}], "mark": {"type": "line", "color": "#5b7dc6", "strokeWidth": 2.6, "interpolate": "catmull-rom"}, "encoding": {"x": {"field": "x", "type": "quantitative", "scale": {"domain": [-41.6667, 41.6667], "nice": false, "zero": false}, "axis": null}, "y": {"field": "y", "type": "quantitative", "scale": {"domain": [-41.6667, 41.6667], "nice": false, "zero": false}, "axis": null}, "order": {"field": "a", "type": "quantitative"}}},
{"data": {"name": "dbl"}, "transform": [{"calculate": "datum.level + 40", "as": "y"}], "mark": {"type": "text", "font": "Liberation Serif", "fontSize": 14, "color": "#1a1a1a", "baseline": "alphabetic", "dy": -1.5}, "encoding": {"x": {"datum": 0, "type": "quantitative", "scale": {"domain": [-41.6667, 41.6667], "nice": false, "zero": false}, "axis": null}, "y": {"field": "y", "type": "quantitative", "scale": {"domain": [-41.6667, 41.6667], "nice": false, "zero": false}, "axis": null}, "text": {"field": "label"}}},
{"data": {"name": "angl"}, "transform": [{"calculate": "-42.2*sin(datum.angle*PI/180)", "as": "x"}, {"calculate": "42.2*cos(datum.angle*PI/180)", "as": "y"}], "mark": {"type": "text", "font": "Liberation Serif", "fontSize": 14, "color": "#1a1a1a", "align": {"expr": "datum.angle == 90 ? 'right' : datum.angle == -90 ? 'left' : 'center'"}, "baseline": {"expr": "datum.angle == 0 ? 'bottom' : datum.angle == 180 ? 'top' : 'middle'"}}, "encoding": {"x": {"field": "x", "type": "quantitative", "scale": {"domain": [-41.6667, 41.6667], "nice": false, "zero": false}, "axis": null}, "y": {"field": "y", "type": "quantitative", "scale": {"domain": [-41.6667, 41.6667], "nice": false, "zero": false}, "axis": null}, "text": {"field": "label"}}}
]}
]},
{"bounds": "flush", "spacing": 88.5, "title": {"text": "Vertical Pattern", "orient": "bottom", "anchor": "middle", "frame": "bounds", "fontSize": 19, "offset": -25}, "hconcat": [
{"width": 200, "height": 200, "layer": [
{"data": {"name": "rings"}, "mark": {"type": "arc", "filled": false, "stroke": "#7492d4", "strokeWidth": 1}, "encoding": {"radius": {"field": "level", "type": "quantitative", "scale": {"type": "linear", "domain": [-40, 0], "range": [0, 96], "zero": false}}, "radius2": {"datum": -40}}},
{"data": {"name": "dotted"}, "mark": {"type": "arc", "filled": false, "stroke": "#8aa4dc", "strokeWidth": 1, "strokeDash": [1, 2]}, "encoding": {"radius": {"field": "level", "type": "quantitative", "scale": {"type": "linear", "domain": [-40, 0], "range": [0, 96], "zero": false}}, "radius2": {"datum": -40}}},
{"data": {"name": "spokes"}, "transform": [{"calculate": "-40*sin(datum.angle*PI/180)", "as": "x"}, {"calculate": "40*cos(datum.angle*PI/180)", "as": "y"}, {"calculate": "-datum.x", "as": "x2"}, {"calculate": "-datum.y", "as": "y2"}], "mark": {"type": "rule", "color": "#7492d4", "strokeWidth": 1}, "encoding": {"x": {"field": "x", "type": "quantitative", "scale": {"domain": [-41.6667, 41.6667], "nice": false, "zero": false}, "axis": null}, "y": {"field": "y", "type": "quantitative", "scale": {"domain": [-41.6667, 41.6667], "nice": false, "zero": false}, "axis": null}, "x2": {"field": "x2"}, "y2": {"field": "y2"}}},
{"data": {"name": "axes"}, "transform": [{"calculate": "-40*sin(datum.angle*PI/180)", "as": "x"}, {"calculate": "40*cos(datum.angle*PI/180)", "as": "y"}, {"calculate": "-datum.x", "as": "x2"}, {"calculate": "-datum.y", "as": "y2"}], "mark": {"type": "rule", "color": "#a2b7e5", "strokeWidth": 2}, "encoding": {"x": {"field": "x", "type": "quantitative", "scale": {"domain": [-41.6667, 41.6667], "nice": false, "zero": false}, "axis": null}, "y": {"field": "y", "type": "quantitative", "scale": {"domain": [-41.6667, 41.6667], "nice": false, "zero": false}, "axis": null}, "x2": {"field": "x2"}, "y2": {"field": "y2"}}},
{"data": {"name": "outer"}, "mark": {"type": "arc", "filled": false, "stroke": "#5f80c8", "strokeWidth": 2.2}, "encoding": {"radius": {"field": "level", "type": "quantitative", "scale": {"type": "linear", "domain": [-40, 0], "range": [0, 96], "zero": false}}, "radius2": {"datum": -40}}},
{"data": {"name": "p7"}, "transform": [{"calculate": "max(0, datum.l + 40)", "as": "r"}, {"calculate": "-datum.r*sin(datum.a*PI/180)", "as": "x"}, {"calculate": "datum.r*cos(datum.a*PI/180)", "as": "y"}], "mark": {"type": "line", "color": "#5b7dc6", "strokeWidth": 2.6, "interpolate": "catmull-rom"}, "encoding": {"x": {"field": "x", "type": "quantitative", "scale": {"domain": [-41.6667, 41.6667], "nice": false, "zero": false}, "axis": null}, "y": {"field": "y", "type": "quantitative", "scale": {"domain": [-41.6667, 41.6667], "nice": false, "zero": false}, "axis": null}, "order": {"field": "a", "type": "quantitative"}}},
{"data": {"name": "dbl"}, "transform": [{"calculate": "datum.level + 40", "as": "y"}], "mark": {"type": "text", "font": "Liberation Serif", "fontSize": 14, "color": "#1a1a1a", "baseline": "alphabetic", "dy": -1.5}, "encoding": {"x": {"datum": 0, "type": "quantitative", "scale": {"domain": [-41.6667, 41.6667], "nice": false, "zero": false}, "axis": null}, "y": {"field": "y", "type": "quantitative", "scale": {"domain": [-41.6667, 41.6667], "nice": false, "zero": false}, "axis": null}, "text": {"field": "label"}}},
{"data": {"name": "angl"}, "transform": [{"calculate": "-42.2*sin(datum.angle*PI/180)", "as": "x"}, {"calculate": "42.2*cos(datum.angle*PI/180)", "as": "y"}], "mark": {"type": "text", "font": "Liberation Serif", "fontSize": 14, "color": "#1a1a1a", "align": {"expr": "datum.angle == 90 ? 'right' : datum.angle == -90 ? 'left' : 'center'"}, "baseline": {"expr": "datum.angle == 0 ? 'bottom' : datum.angle == 180 ? 'top' : 'middle'"}}, "encoding": {"x": {"field": "x", "type": "quantitative", "scale": {"domain": [-41.6667, 41.6667], "nice": false, "zero": false}, "axis": null}, "y": {"field": "y", "type": "quantitative", "scale": {"domain": [-41.6667, 41.6667], "nice": false, "zero": false}, "axis": null}, "text": {"field": "label"}}}
]},
{"width": 200, "height": 200, "layer": [
{"data": {"name": "rings"}, "mark": {"type": "arc", "filled": false, "stroke": "#7492d4", "strokeWidth": 1}, "encoding": {"radius": {"field": "level", "type": "quantitative", "scale": {"type": "linear", "domain": [-40, 0], "range": [0, 96], "zero": false}}, "radius2": {"datum": -40}}},
{"data": {"name": "dotted"}, "mark": {"type": "arc", "filled": false, "stroke": "#8aa4dc", "strokeWidth": 1, "strokeDash": [1, 2]}, "encoding": {"radius": {"field": "level", "type": "quantitative", "scale": {"type": "linear", "domain": [-40, 0], "range": [0, 96], "zero": false}}, "radius2": {"datum": -40}}},
{"data": {"name": "spokes"}, "transform": [{"calculate": "-40*sin(datum.angle*PI/180)", "as": "x"}, {"calculate": "40*cos(datum.angle*PI/180)", "as": "y"}, {"calculate": "-datum.x", "as": "x2"}, {"calculate": "-datum.y", "as": "y2"}], "mark": {"type": "rule", "color": "#7492d4", "strokeWidth": 1}, "encoding": {"x": {"field": "x", "type": "quantitative", "scale": {"domain": [-41.6667, 41.6667], "nice": false, "zero": false}, "axis": null}, "y": {"field": "y", "type": "quantitative", "scale": {"domain": [-41.6667, 41.6667], "nice": false, "zero": false}, "axis": null}, "x2": {"field": "x2"}, "y2": {"field": "y2"}}},
{"data": {"name": "axes"}, "transform": [{"calculate": "-40*sin(datum.angle*PI/180)", "as": "x"}, {"calculate": "40*cos(datum.angle*PI/180)", "as": "y"}, {"calculate": "-datum.x", "as": "x2"}, {"calculate": "-datum.y", "as": "y2"}], "mark": {"type": "rule", "color": "#a2b7e5", "strokeWidth": 2}, "encoding": {"x": {"field": "x", "type": "quantitative", "scale": {"domain": [-41.6667, 41.6667], "nice": false, "zero": false}, "axis": null}, "y": {"field": "y", "type": "quantitative", "scale": {"domain": [-41.6667, 41.6667], "nice": false, "zero": false}, "axis": null}, "x2": {"field": "x2"}, "y2": {"field": "y2"}}},
{"data": {"name": "outer"}, "mark": {"type": "arc", "filled": false, "stroke": "#5f80c8", "strokeWidth": 2.2}, "encoding": {"radius": {"field": "level", "type": "quantitative", "scale": {"type": "linear", "domain": [-40, 0], "range": [0, 96], "zero": false}}, "radius2": {"datum": -40}}},
{"data": {"name": "p8"}, "transform": [{"calculate": "max(0, datum.l + 40)", "as": "r"}, {"calculate": "-datum.r*sin(datum.a*PI/180)", "as": "x"}, {"calculate": "datum.r*cos(datum.a*PI/180)", "as": "y"}], "mark": {"type": "line", "color": "#5b7dc6", "strokeWidth": 2.6, "interpolate": "catmull-rom"}, "encoding": {"x": {"field": "x", "type": "quantitative", "scale": {"domain": [-41.6667, 41.6667], "nice": false, "zero": false}, "axis": null}, "y": {"field": "y", "type": "quantitative", "scale": {"domain": [-41.6667, 41.6667], "nice": false, "zero": false}, "axis": null}, "order": {"field": "a", "type": "quantitative"}}},
{"data": {"name": "dbl"}, "transform": [{"calculate": "datum.level + 40", "as": "y"}], "mark": {"type": "text", "font": "Liberation Serif", "fontSize": 14, "color": "#1a1a1a", "baseline": "alphabetic", "dy": -1.5}, "encoding": {"x": {"datum": 0, "type": "quantitative", "scale": {"domain": [-41.6667, 41.6667], "nice": false, "zero": false}, "axis": null}, "y": {"field": "y", "type": "quantitative", "scale": {"domain": [-41.6667, 41.6667], "nice": false, "zero": false}, "axis": null}, "text": {"field": "label"}}},
{"data": {"name": "angl"}, "transform": [{"calculate": "-42.2*sin(datum.angle*PI/180)", "as": "x"}, {"calculate": "42.2*cos(datum.angle*PI/180)", "as": "y"}], "mark": {"type": "text", "font": "Liberation Serif", "fontSize": 14, "color": "#1a1a1a", "align": {"expr": "datum.angle == 90 ? 'right' : datum.angle == -90 ? 'left' : 'center'"}, "baseline": {"expr": "datum.angle == 0 ? 'bottom' : datum.angle == 180 ? 'top' : 'middle'"}}, "encoding": {"x": {"field": "x", "type": "quantitative", "scale": {"domain": [-41.6667, 41.6667], "nice": false, "zero": false}, "axis": null}, "y": {"field": "y", "type": "quantitative", "scale": {"domain": [-41.6667, 41.6667], "nice": false, "zero": false}, "axis": null}, "text": {"field": "label"}}}
]}
]}
]}
]
}
